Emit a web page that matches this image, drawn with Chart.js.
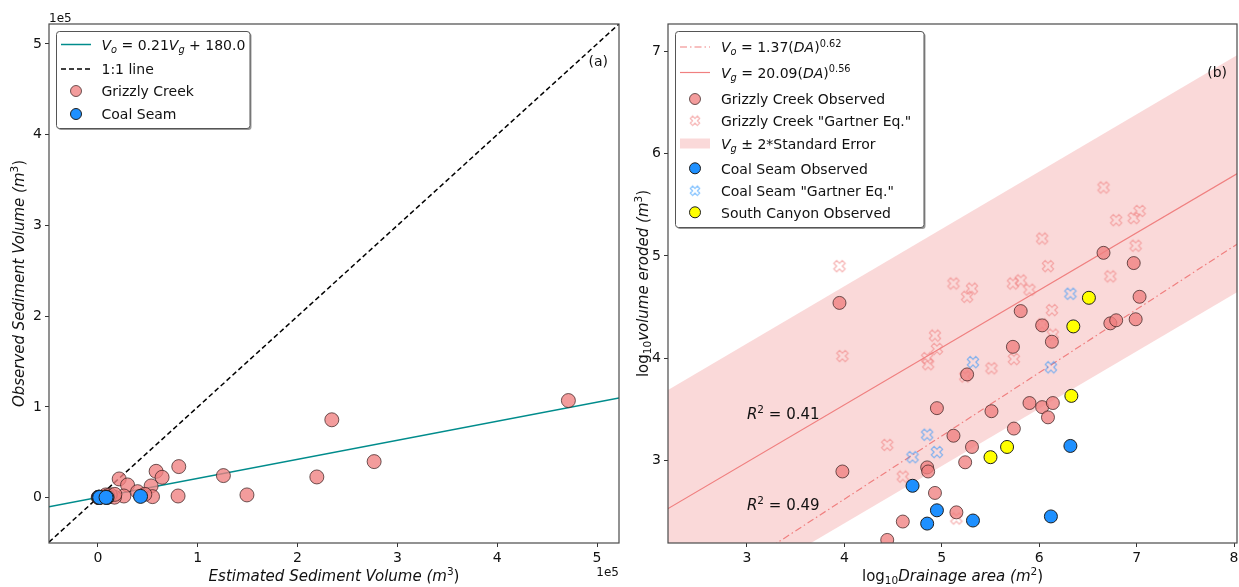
<!DOCTYPE html>
<html>
<head>
<meta charset="utf-8">
<script src="https://cdn.jsdelivr.net/npm/chart.js@4.4.0/dist/chart.umd.min.js"></script>
<style>
  body { margin: 0; background: #fff; }
  #wrap { position: relative; width: 1239px; height: 587px; }
  canvas { position: absolute; top: 0; }
</style>
</head>
<body>
<div id="wrap">
  <canvas id="left" width="620" height="587" style="left:0"></canvas>
  <canvas id="right" width="619" height="587" style="left:620px"></canvas>
</div>
<script>
// ---- panel (a): sediment volumes, m3 ----
const gcEstimatedVol = [21300, 29700, 58300, 64300, 81000, 53300, 39700, 54700, 80300, 26000, 125700, 149300, 219300, 234300, 276700, 471300,
                        10500, 1400, 700, 10000, 8700, 16600, 12300, 6600, 7900, 9800, 17000, 47000, 300];
const gcObservedVol  = [20600, 14000, 29000, 22400, 34200, 12900, 6600, 1100, 1800, 1800, 24300, 3000, 22800, 85800, 39700, 107000,
                        800, 200, 250, 850, 800, 500, 3200, 950, 3000, 2000, 3600, 3600, 300];
const csEstimatedVol = [1070, 1200, 1780, 9120, 42700, 8130];
const csObservedVol  = [560, 320, 240, 260, 1380, 280];
const volLineEnds = [-49000, 522000];     // x ends of the two lines
const fitObservedEnds = [-10110, 109800]; // Vo = 0.21Vg + 180 at those ends
const volTicks = [0, 1, 2, 3, 4, 5];      // x 1e5

// ---- panel (b): log10 drainage area vs log10 volume ----
const gcLogArea    = [3.95, 3.98, 4.44, 4.60, 4.85, 4.86, 4.93, 4.95, 5.12, 5.15, 5.24, 5.26, 5.31, 5.51, 5.74,
                      5.73, 5.81, 5.90, 6.03, 6.03, 6.09, 6.13, 6.14, 6.66, 6.73, 6.79, 6.97, 6.99, 7.03];
const gcLogObs     = [4.54, 2.89, 2.22, 2.40, 2.93, 2.89, 2.68, 3.51, 3.24, 2.49, 2.98, 3.84, 3.13, 3.48, 3.31,
                      4.11, 4.46, 3.56, 3.52, 4.32, 3.42, 4.16, 3.56, 5.03, 4.34, 4.37, 4.93, 4.38, 4.60];
const gcLogGartner = [4.90, 4.02, 3.15, 2.84, 4.00, 3.94, 4.22, 4.09, 4.73, 2.43, 3.82, 4.60, 4.68, 3.90, 3.99,
                      4.73, 4.76, 4.67, 5.17, 4.33, 4.90, 4.47, 4.23, 5.67, 4.80, 5.35, 5.37, 5.10, 5.44];
const csLogArea    = [4.70, 4.85, 4.95, 5.32, 6.12, 6.32];
const csLogObs     = [2.75, 2.38, 2.51, 2.41, 2.45, 3.14];
const csLogGartner = [3.03, 3.25, 3.08, 3.96, 3.91, 4.63];
const scLogArea    = [5.50, 5.67, 6.33, 6.35, 6.51];
const scLogObs     = [3.03, 3.13, 3.63, 4.31, 4.59];
const fitLogArea   = [2.0, 8.2];
const vgLine       = [2.42, 5.90];   // Vg = 20.09(DA)^0.56
const voLine       = [1.38, 5.22];   // Vo = 1.37(DA)^0.62
const bandUpper    = [3.58, 7.06];
const bandLower    = [1.26, 4.74];
const areaTicks    = [3, 4, 5, 6, 7, 8];
const logVolTicks  = [3, 4, 5, 6, 7];
const r2Labels     = [{x: 3.0, y: 3.40, text: ' = 0.41'}, {x: 3.0, y: 2.51, text: ' = 0.49'}];

const FONT = '"DejaVu Sans"';
const INK = '#111';
const CORAL = 'rgb(240,128,128)';
const GC_FILL = 'rgba(240,128,128,0.78)';
const GC_EDGE = 'rgba(50,25,25,0.7)';
const CS_FILL = 'rgb(30,144,255)';
const SC_FILL = 'rgb(255,255,0)';
const DARK_EDGE = '#1e1e1e';

Chart.defaults.font.family = FONT;
Chart.defaults.color = INK;

const pts = (xs, ys) => xs.map((x, i) => ({x: x, y: ys[i]}));

// matplotlib style 'X' marker, outline only
function xMarker(color, size) {
  const c = document.createElement('canvas');
  const n = Math.ceil(size + 4);
  c.width = c.height = n;
  const g = c.getContext('2d');
  const k = size / 6;
  const v = [[-1,-3],[1,-3],[1,-1],[3,-1],[3,1],[1,1],[1,3],[-1,3],[-1,1],[-3,1],[-3,-1],[-1,-1]];
  g.translate(n / 2, n / 2);
  g.rotate(Math.PI / 4);
  g.beginPath();
  v.forEach(([a, b], i) => i ? g.lineTo(a * k, b * k) : g.moveTo(a * k, b * k));
  g.closePath();
  g.strokeStyle = color;
  g.lineWidth = 1.2;
  g.stroke();
  return c;
}
const gcX = xMarker('rgba(240,128,128,0.6)', 12);
const csX = xMarker('rgba(30,144,255,0.55)', 12);
const gcXsmall = xMarker('rgba(240,128,128,0.6)', 10);
const csXsmall = xMarker('rgba(30,144,255,0.55)', 10);

// text with italic / sub / superscript parts: ['txt', style]  style: '' | 'i' | 'is' | 's' | 'p'
function drawRich(ctx, parts, x, y, size, align) {
  let w = 0;
  const segs = parts.map(([t, st]) => {
    const small = st.includes('s') || st.includes('p');
    const font = (st.includes('i') ? 'italic ' : '') + (small ? size * 0.7 : size) + 'px ' + FONT;
    ctx.font = font;
    const sw = ctx.measureText(t).width;
    const dy = st.includes('s') ? size * 0.22 : st.includes('p') ? -size * 0.4 : 0;
    w += sw;
    return {t, font, sw, dy};
  });
  let cx = align === 'center' ? x - w / 2 : align === 'right' ? x - w : x;
  segs.forEach(s => { ctx.font = s.font; ctx.fillText(s.t, cx, y + s.dy); cx += s.sw; });
}

function rrect(ctx, x, y, w, h, r) {
  ctx.beginPath();
  ctx.moveTo(x + r, y);
  ctx.arcTo(x + w, y, x + w, y + h, r);
  ctx.arcTo(x + w, y + h, x, y + h, r);
  ctx.arcTo(x, y + h, x, y, r);
  ctx.arcTo(x, y, x + w, y, r);
  ctx.closePath();
}

function drawHandle(ctx, h, x0, x1, y) {
  ctx.save();
  if (h.line) {
    ctx.strokeStyle = h.line; ctx.lineWidth = h.width; ctx.setLineDash(h.dash || []);
    ctx.beginPath(); ctx.moveTo(x0, y); ctx.lineTo(x1, y); ctx.stroke();
  } else if (h.circle) {
    ctx.fillStyle = h.circle; ctx.strokeStyle = h.edge; ctx.lineWidth = 1;
    ctx.beginPath(); ctx.arc((x0 + x1) / 2, y, 5.5, 0, Math.PI * 2); ctx.fill(); ctx.stroke();
  } else if (h.image) {
    ctx.drawImage(h.image, (x0 + x1) / 2 - h.image.width / 2, y - h.image.height / 2);
  } else if (h.patch) {
    ctx.fillStyle = h.patch; ctx.fillRect(x0, y - 5, x1 - x0, 10);
  }
  ctx.restore();
}

function drawLegend(ctx, lg) {
  ctx.save();
  ctx.fillStyle = 'rgba(0,0,0,0.4)';
  rrect(ctx, lg.x + 1.5, lg.y + 1.5, lg.w, lg.h, 3); ctx.fill();
  ctx.fillStyle = '#fff';
  rrect(ctx, lg.x, lg.y, lg.w, lg.h, 3); ctx.fill();
  ctx.strokeStyle = '#555'; ctx.lineWidth = 1; ctx.stroke();
  ctx.fillStyle = INK;
  lg.rows.forEach(r => {
    drawHandle(ctx, r.handle, lg.hx0, lg.hx1, r.y);
    ctx.fillStyle = INK;
    drawRich(ctx, r.label, lg.tx, r.y + 5.4, 14, 'left');
  });
  ctx.restore();
}

function decoPlugin(cfg) {
  return {
    id: 'deco',
    afterDraw(chart) {
      const ctx = chart.ctx, a = chart.chartArea;
      ctx.save();
      ctx.strokeStyle = '#4a4a4a'; ctx.lineWidth = 1.2;
      ctx.strokeRect(a.left, a.top, a.right - a.left, a.bottom - a.top);
      ctx.fillStyle = INK; ctx.textBaseline = 'alphabetic';
      drawRich(ctx, cfg.xTitle, (a.left + a.right) / 2, 581, 15, 'center');
      ctx.save();
      ctx.translate(cfg.yTitleX, (a.top + a.bottom) / 2);
      ctx.rotate(-Math.PI / 2);
      drawRich(ctx, cfg.yTitle, 0, 0, 15, 'center');
      ctx.restore();
      ctx.font = '14px ' + FONT; ctx.textAlign = 'right';
      ctx.fillText(cfg.panel, cfg.panelX, cfg.panelY);
      ctx.textAlign = 'left';
      if (cfg.extra) cfg.extra(chart, ctx);
      drawLegend(ctx, cfg.legend);
      ctx.restore();
    }
  };
}

function axis(min, max, tickValues, opts) {
  const unit = opts.unit || 1;
  return {
    type: 'linear', min: min, max: max,
    afterBuildTicks: s => { s.ticks = tickValues.map(v => ({value: v * unit})); },
    ticks: {
      font: {size: 14, family: FONT}, color: INK, padding: 3, maxRotation: 0,
      callback: v => String(Math.round(v / unit))
    },
    grid: {drawOnChartArea: false, drawTicks: true, tickLength: 4, color: '#333', lineWidth: 1},
    border: {display: false},
    afterFit: s => {
      opts.fit(s);
      // keep the plot frame where it is, labels may overhang
      s.paddingLeft = 0; s.paddingRight = 0; s.paddingTop = 0; s.paddingBottom = 0;
    }
  };
}

const common = {
  responsive: false, animation: false, events: [],
  plugins: {legend: {display: false}, tooltip: {enabled: false}}
};

// ---------- panel (a) ----------
new Chart(document.getElementById('left'), {
  type: 'scatter',
  data: {
    datasets: [
      {type: 'line', data: pts(volLineEnds, volLineEnds), borderColor: '#000', borderWidth: 1.5,
       borderDash: [5, 3], pointRadius: 0, fill: false, order: 4},
      {type: 'line', data: pts(volLineEnds, fitObservedEnds), borderColor: 'rgb(0,140,140)', borderWidth: 1.5,
       pointRadius: 0, fill: false, order: 3},
      {data: pts(gcEstimatedVol, gcObservedVol), pointRadius: 7, pointBackgroundColor: GC_FILL,
       pointBorderColor: GC_EDGE, pointBorderWidth: 1, order: 2},
      {data: pts(csEstimatedVol, csObservedVol), pointRadius: 7, pointBackgroundColor: CS_FILL,
       pointBorderColor: DARK_EDGE, pointBorderWidth: 1, order: 1}
    ]
  },
  options: Object.assign({}, common, {
    layout: {autoPadding: false, padding: {top: 24, right: 1, left: 0, bottom: 0}},
    scales: {
      x: axis(-49000, 522000, volTicks, {unit: 1e5, fit: s => { s.height = 44; }}),
      y: axis(-50000, 522000, volTicks, {unit: 1e5, fit: s => { s.width = 49; }})
    }
  }),
  plugins: [decoPlugin({
    xTitle: [['Estimated Sediment Volume (m', 'i'], ['3', 'p'], [')', '']],
    yTitle: [['Observed Sediment Volume (m', 'i'], ['3', 'p'], [')', '']],
    yTitleX: 24,
    panel: '(a)', panelX: 608, panelY: 66,
    extra: (chart, ctx) => {
      ctx.font = '12px ' + FONT;
      ctx.textAlign = 'left'; ctx.fillText('1e5', 49, 22);
      ctx.textAlign = 'right'; ctx.fillText('1e5', 619, 576);
      ctx.textAlign = 'left';
    },
    legend: {
      x: 56.5, y: 31.5, w: 193.5, h: 97, hx0: 61, hx1: 91, tx: 101.5,
      rows: [
        {y: 44.5, handle: {line: 'rgb(0,140,140)', width: 1.5},
         label: [['V', 'i'], ['o', 'is'], [' = 0.21', ''], ['V', 'i'], ['g', 'is'], [' + 180.0', '']]},
        {y: 69, handle: {line: '#000', width: 1.5, dash: [5, 3]}, label: [['1:1 line', '']]},
        {y: 91, handle: {circle: GC_FILL, edge: GC_EDGE}, label: [['Grizzly Creek', '']]},
        {y: 114, handle: {circle: CS_FILL, edge: DARK_EDGE}, label: [['Coal Seam', '']]}
      ]
    }
  })]
});

// ---------- panel (b) ----------
new Chart(document.getElementById('right'), {
  type: 'scatter',
  data: {
    datasets: [
      {type: 'line', data: pts(fitLogArea, bandUpper), borderWidth: 0, pointRadius: 0,
       backgroundColor: 'rgba(240,128,128,0.3)', fill: '+1', order: 10},
      {type: 'line', data: pts(fitLogArea, bandLower), borderWidth: 0, pointRadius: 0, fill: false, order: 11},
      {type: 'line', data: pts(fitLogArea, vgLine), borderColor: CORAL, borderWidth: 1.2, pointRadius: 0, fill: false, order: 9},
      {type: 'line', data: pts(fitLogArea, voLine), borderColor: CORAL, borderWidth: 1.2, borderDash: [7, 3, 1.5, 3],
       pointRadius: 0, fill: false, order: 8},
      {data: pts(gcLogArea, gcLogGartner), pointStyle: gcX, pointRadius: 6, order: 7},
      {data: pts(csLogArea, csLogGartner), pointStyle: csX, pointRadius: 6, order: 6},
      {data: pts(gcLogArea, gcLogObs), pointRadius: 6.5, pointBackgroundColor: GC_FILL,
       pointBorderColor: GC_EDGE, pointBorderWidth: 1, order: 5},
      {data: pts(csLogArea, csLogObs), pointRadius: 6.5, pointBackgroundColor: CS_FILL,
       pointBorderColor: DARK_EDGE, pointBorderWidth: 1, order: 4},
      {data: pts(scLogArea, scLogObs), pointRadius: 6.5, pointBackgroundColor: SC_FILL,
       pointBorderColor: DARK_EDGE, pointBorderWidth: 1, order: 3}
    ]
  },
  options: Object.assign({}, common, {
    layout: {autoPadding: false, padding: {top: 24, right: 2, left: 0, bottom: 0}},
    scales: {
      x: axis(2.19, 8.03, areaTicks, {fit: s => { s.height = 44; }}),
      y: axis(2.19, 7.27, logVolTicks, {fit: s => { s.width = 48; }})
    }
  }),
  plugins: [decoPlugin({
    xTitle: [['log', ''], ['10', 's'], ['Drainage area (m', 'i'], ['2', 'p'], [')', '']],
    yTitle: [['log', ''], ['10', 's'], ['volume eroded (m', 'i'], ['3', 'p'], [')', '']],
    yTitleX: 28,
    panel: '(b)', panelX: 607, panelY: 77,
    extra: (chart, ctx) => {
      const sx = chart.scales.x, sy = chart.scales.y;
      r2Labels.forEach(l => {
        drawRich(ctx, [['R', 'i'], ['2', 'p'], [l.text, '']], sx.getPixelForValue(l.x), sy.getPixelForValue(l.y), 15, 'left');
      });
    },
    legend: {
      x: 55.5, y: 31.5, w: 248.5, h: 196, hx0: 60, hx1: 90, tx: 101,
      rows: [
        {y: 47, handle: {line: CORAL, width: 1.2, dash: [7, 3, 1.5, 3]},
         label: [['V', 'i'], ['o', 'is'], [' = 1.37(', ''], ['DA', 'i'], [')', ''], ['0.62', 'p']]},
        {y: 72.5, handle: {line: CORAL, width: 1.2},
         label: [['V', 'i'], ['g', 'is'], [' = 20.09(', ''], ['DA', 'i'], [')', ''], ['0.56', 'p']]},
        {y: 99, handle: {circle: GC_FILL, edge: GC_EDGE}, label: [['Grizzly Creek Observed', '']]},
        {y: 120.7, handle: {image: gcXsmall}, label: [['Grizzly Creek "Gartner Eq."', '']]},
        {y: 143.5, handle: {patch: 'rgba(240,128,128,0.3)'},
         label: [['V', 'i'], ['g', 'is'], [' \u00b1 2*Standard Error', '']]},
        {y: 168.3, handle: {circle: CS_FILL, edge: DARK_EDGE}, label: [['Coal Seam Observed', '']]},
        {y: 190.7, handle: {image: csXsmall}, label: [['Coal Seam "Gartner Eq."', '']]},
        {y: 212.3, handle: {circle: SC_FILL, edge: DARK_EDGE}, label: [['South Canyon Observed', '']]}
      ]
    }
  })]
});
</script>
</body>
</html>
